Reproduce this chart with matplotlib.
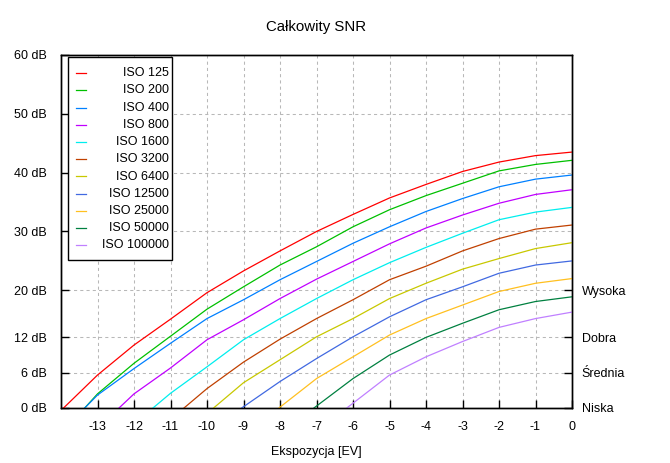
import numpy as np
import matplotlib
matplotlib.use("Agg")
import matplotlib.pyplot as plt
from matplotlib.patches import Rectangle

plt.rcParams['font.family'] = ['Liberation Sans', 'DejaVu Sans']
plt.rcParams['font.size'] = 9
plt.rcParams['axes.unicode_minus'] = False

# exposure grid [EV] and readings in dB
ev_grid = [-13, -12, -11, -10, -9, -8, -7, -6, -5, -4, -3, -2, -1, 0]

iso_labels = ["ISO 125", "ISO 200", "ISO 400", "ISO 800", "ISO 1600", "ISO 3200",
              "ISO 6400", "ISO 12500", "ISO 25000", "ISO 50000", "ISO 100000"]

# exposure where SNR crosses 0 dB
start_ev = [-13.93, -13.35, -13.35, -12.41, -11.48, -10.63, -9.82, -9.05, -8.03, -7.07, -6.17]

snr_125 = [5.6, 10.7, 15.1, 19.6, 23.3, 26.7, 30.0, 32.9, 35.7, 38.0, 40.2, 41.8, 42.9, 43.5]
snr_200 = [2.4, 7.6, 12.2, 16.8, 20.6, 24.3, 27.4, 30.8, 33.7, 36.1, 38.2, 40.3, 41.4, 42.1]
snr_400 = [2.2, 6.7, 11.0, 15.2, 18.4, 21.8, 24.9, 28.0, 30.8, 33.4, 35.6, 37.6, 38.9, 39.6]
snr_800 = [2.4, 6.8, 11.6, 15.0, 18.6, 21.9, 24.9, 27.9, 30.6, 32.8, 34.8, 36.3, 37.1]
snr_1600 = [2.5, 7.0, 11.6, 15.2, 18.6, 21.8, 24.7, 27.3, 29.7, 32.0, 33.3, 34.1]
snr_3200 = [3.3, 7.8, 11.7, 15.2, 18.4, 21.8, 24.1, 26.7, 28.8, 30.4, 31.1]
snr_6400 = [4.3, 8.2, 12.1, 15.2, 18.6, 21.2, 23.6, 25.4, 27.1, 28.1]
snr_12500 = [4.5, 8.4, 12.1, 15.5, 18.4, 20.6, 22.9, 24.3, 25.0]
snr_25000 = [5.0, 8.7, 12.4, 15.2, 17.5, 19.8, 21.2, 22.0]
snr_50000 = [5.0, 9.0, 12.0, 14.4, 16.7, 18.1, 18.9]
snr_100000 = [5.6, 8.7, 11.3, 13.7, 15.2, 16.3]

snr_all = [snr_125, snr_200, snr_400, snr_800, snr_1600, snr_3200,
           snr_6400, snr_12500, snr_25000, snr_50000, snr_100000]

# gnuplot png palette
colors = ["#ff0000", "#00c000", "#0080ff", "#c000ff", "#00eeee", "#c04000",
          "#c8c800", "#4169e1", "#ffc020", "#008040", "#c080ff"]

y_ticks = [0, 6, 12, 20, 30, 40, 50, 60]
y_labels = [f"{v} dB" for v in y_ticks]
quality_ticks = [0, 6, 12, 20]
quality_labels = ["Niska", "Średnia", "Dobra", "Wysoka"]
x_ticks = ev_grid
x_labels = [str(v) for v in x_ticks]

fig = plt.figure(figsize=(6.7, 4.63), dpi=100)
ax = fig.add_axes([61 / 670, 55 / 463, 511 / 670, 353 / 463])

for i, snr in enumerate(snr_all):
    xs = [start_ev[i]] + ev_grid[-len(snr):]
    ys = [0] + snr
    ax.plot(xs, ys, color=colors[i], lw=0.9, zorder=3, solid_joinstyle="round")

ax.set_xlim(-14, 0)
ax.set_ylim(0, 60)
ax.set_xticks(x_ticks)
ax.set_xticklabels(x_labels)
ax.set_yticks(y_ticks)
ax.set_yticklabels(y_labels)
ax.tick_params(direction="in", length=6, width=1, right=False, top=False, colors="black")
ax.tick_params(axis="y", pad=10)
ax.tick_params(axis="x", pad=9)
for s in ax.spines.values():
    s.set_linewidth(1.0)

# dashed grid, skipping the border lines
for x in x_ticks[:-1]:
    ax.axvline(x, color="#b8b8b8", lw=0.75, ls=(0, (3, 3)), zorder=1)
for y in y_ticks[1:-1]:
    ax.axhline(y, color="#b8b8b8", lw=0.75, ls=(0, (3, 3)), zorder=1)

ax2 = ax.twinx()
ax2.set_ylim(0, 60)
ax2.set_yticks(quality_ticks)
ax2.set_yticklabels(quality_labels)
ax2.tick_params(direction="in", length=6, width=1, pad=7)
for s in ax2.spines.values():
    s.set_linewidth(1.0)

ax.set_title("Całkowity SNR", pad=17)
ax.set_xlabel("Ekspozycja [EV]", labelpad=10)

# key box: sample first, right-aligned text
ax_w, ax_h = 511.0, 353.0
box = Rectangle(((68 - 61) / ax_w, (408 - 260) / ax_h), (172 - 68) / ax_w, (260 - 57) / ax_h,
                transform=ax.transAxes, facecolor="white", edgecolor="black", lw=1.0, zorder=5)
ax.add_patch(box)
for i, lab in enumerate(iso_labels):
    yy = (408 - 73.3 - 17.2 * i) / ax_h
    ax.plot([(76 - 61) / ax_w, (86 - 61) / ax_w], [yy, yy], transform=ax.transAxes,
            color=colors[i], lw=0.9, zorder=6, clip_on=False)
    ax.text((169 - 61) / ax_w, yy, lab, transform=ax.transAxes, ha="right", va="center", zorder=6)

fig.savefig("out.png", dpi=100)
